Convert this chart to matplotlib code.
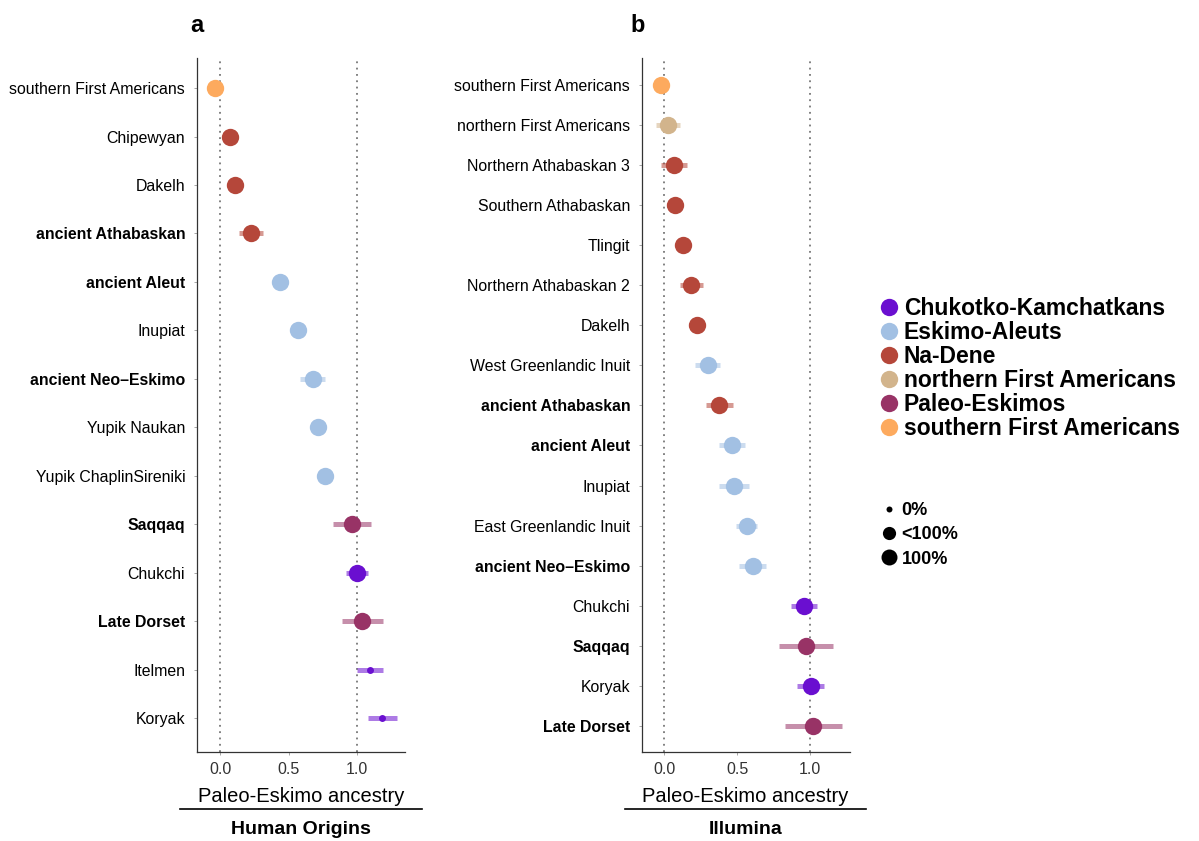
import matplotlib
matplotlib.use("Agg")
import matplotlib.pyplot as plt
from matplotlib.lines import Line2D

plt.rcParams['font.family'] = ['Liberation Sans', 'DejaVu Sans']

# ---------------- data ----------------
group_colors = {
    "Chukotko-Kamchatkans": "#6a0fd0",
    "Eskimo-Aleuts": "#a2c0e3",
    "Na-Dene": "#b5473a",
    "northern First Americans": "#d2b48c",
    "Paleo-Eskimos": "#983366",
    "southern First Americans": "#fdaa5e",
}

a_labels = ["southern First Americans", "Chipewyan", "Dakelh", "ancient Athabaskan",
            "ancient Aleut", "Inupiat", "ancient Neo\u2013Eskimo", "Yupik Naukan",
            "Yupik ChaplinSireniki", "Saqqaq", "Chukchi", "Late Dorset", "Itelmen", "Koryak"]
a_groups = ["southern First Americans", "Na-Dene", "Na-Dene", "Na-Dene",
            "Eskimo-Aleuts", "Eskimo-Aleuts", "Eskimo-Aleuts", "Eskimo-Aleuts",
            "Eskimo-Aleuts", "Paleo-Eskimos", "Chukotko-Kamchatkans", "Paleo-Eskimos",
            "Chukotko-Kamchatkans", "Chukotko-Kamchatkans"]
a_values = [-0.04, 0.07, 0.105, 0.225, 0.433, 0.567, 0.675, 0.711, 0.763,
            0.961, 1.0, 1.039, 1.093, 1.183]
a_err = [0.035, 0.03, 0.03, 0.09, 0.03, 0.03, 0.092, 0.03, 0.03,
         0.138, 0.078, 0.15, 0.097, 0.105]
a_coverage = ["100%", "100%", "100%", "100%", "100%", "100%", "100%", "100%",
              "100%", "100%", "100%", "100%", "0%", "0%"]
a_bold = [False, False, False, True, True, False, True, False, False,
          True, False, True, False, False]

b_labels = ["southern First Americans", "northern First Americans", "Northern Athabaskan 3",
            "Southern Athabaskan", "Tlingit", "Northern Athabaskan 2", "Dakelh",
            "West Greenlandic Inuit", "ancient Athabaskan", "ancient Aleut", "Inupiat",
            "East Greenlandic Inuit", "ancient Neo\u2013Eskimo", "Chukchi", "Saqqaq",
            "Koryak", "Late Dorset"]
b_groups = ["southern First Americans", "northern First Americans", "Na-Dene",
            "Na-Dene", "Na-Dene", "Na-Dene", "Na-Dene",
            "Eskimo-Aleuts", "Na-Dene", "Eskimo-Aleuts", "Eskimo-Aleuts",
            "Eskimo-Aleuts", "Eskimo-Aleuts", "Chukotko-Kamchatkans", "Paleo-Eskimos",
            "Chukotko-Kamchatkans", "Paleo-Eskimos"]
b_values = [-0.025, 0.025, 0.067, 0.071, 0.126, 0.186, 0.222, 0.298, 0.376,
            0.466, 0.479, 0.564, 0.606, 0.959, 0.975, 1.005, 1.023]
b_err = [0.04, 0.085, 0.088, 0.05, 0.04, 0.076, 0.05, 0.085, 0.092,
         0.09, 0.103, 0.072, 0.095, 0.086, 0.186, 0.093, 0.194]
b_coverage = ["100%"] * 17
b_bold = [False, False, False, False, False, False, False, False, True,
          True, False, False, True, False, True, False, True]

coverage_size = {"0%": 5.0, "<100%": 10, "100%": 12.5}
legend_size = {"0%": 4.3, "<100%": 9.5, "100%": 11.5}

# ---------------- figure ----------------
fig = plt.figure(figsize=(11.99, 8.41), dpi=100)
W, H = 1199, 841


def panel(rect, labels, groups, values, errs, coverage, bold, xlim, pad_top, pad_bot):
    ax = fig.add_axes(rect)
    n = len(labels)
    ys = list(range(n))
    ax.axvline(0, color="#777777", ls=(0, (1, 2.5)), lw=1.3, zorder=0)
    ax.axvline(1, color="#777777", ls=(0, (1, 2.5)), lw=1.3, zorder=0)
    for y, v, e, g, c in zip(ys, values, errs, groups, coverage):
        col = group_colors[g]
        ax.plot([v - e, v + e], [y, y], color=col, alpha=0.55, lw=3.6,
                solid_capstyle="butt", zorder=2)
        ax.plot([v], [y], "o", color=col, ms=coverage_size[c], mew=0, zorder=3)
    ax.set_ylim(n - 1 + pad_bot, -pad_top)
    ax.set_xlim(*xlim)
    ax.set_yticks(ys)
    ax.set_yticklabels(labels, fontsize=11.4)
    for t, b in zip(ax.get_yticklabels(), bold):
        if b:
            t.set_fontweight("bold")
    ax.set_xticks([0, 0.5, 1.0])
    ax.set_xticklabels(["0.0", "0.5", "1.0"], fontsize=11.5, color="#333333")
    for s in ["top", "right"]:
        ax.spines[s].set_visible(False)
    for s in ["left", "bottom"]:
        ax.spines[s].set_color("#333333")
        ax.spines[s].set_linewidth(0.9)
    ax.tick_params(axis="y", length=2.5, width=0.6, color="#999999", pad=6)
    ax.tick_params(axis="x", length=2.5, width=0.6, color="#999999", pad=5)
    return ax


top_px, bot_px = 58, 752
ax_a = panel([197 / W, 1 - bot_px / H, 208 / W, (bot_px - top_px) / H],
             a_labels, a_groups, a_values, a_err, a_coverage, a_bold,
             (-0.17, 1.35), 0.62, 0.7)
ax_b = panel([642 / W, 1 - bot_px / H, 208 / W, (bot_px - top_px) / H],
             b_labels, b_groups, b_values, b_err, b_coverage, b_bold,
             (-0.154, 1.275), 0.67, 0.65)

for ax, x0, x1, name in [(ax_a, 180, 422, "Human Origins"), (ax_b, 625, 866, "Illumina")]:
    cx = (x0 + x1) / 2 / W
    fig.text(cx, 1 - 796 / H, "Paleo-Eskimo ancestry", ha="center", va="center", fontsize=14.5)
    fig.add_artist(Line2D([x0 / W, x1 / W], [1 - 809 / H, 1 - 809 / H],
                          color="black", lw=1.2))
    fig.text(cx, 1 - 830 / H, name, ha="center", va="center", fontsize=14,
             fontweight="bold")

fig.text(197 / W, 1 - 25 / H, "a", ha="center", va="center", fontsize=17, fontweight="bold")
fig.text(638 / W, 1 - 25 / H, "b", ha="center", va="center", fontsize=17, fontweight="bold")

# ---------------- legends ----------------
handles = [Line2D([], [], marker="o", ls="", color=c, ms=12.5, mew=0)
           for c in group_colors.values()]
leg1 = fig.legend(handles, list(group_colors.keys()), loc="upper left",
                  bbox_to_anchor=(865 / W, 1 - 288 / H), frameon=False,
                  prop={"size": 16.5, "weight": "bold"}, handletextpad=0.0,
                  labelspacing=0.04, borderaxespad=0, handlelength=1.3)

size_handles = [Line2D([], [], marker="o", ls="", color="black", ms=legend_size[k], mew=0)
                for k in ["0%", "<100%", "100%"]]
leg2 = fig.legend(size_handles, ["0%", "<100%", "100%"], loc="upper left",
                  bbox_to_anchor=(869 / W, 1 - 495 / H), frameon=False,
                  prop={"size": 13, "weight": "bold"}, handletextpad=0.0,
                  labelspacing=0.4, borderaxespad=0, handlelength=1.4)

fig.savefig("out.png", dpi=100)
